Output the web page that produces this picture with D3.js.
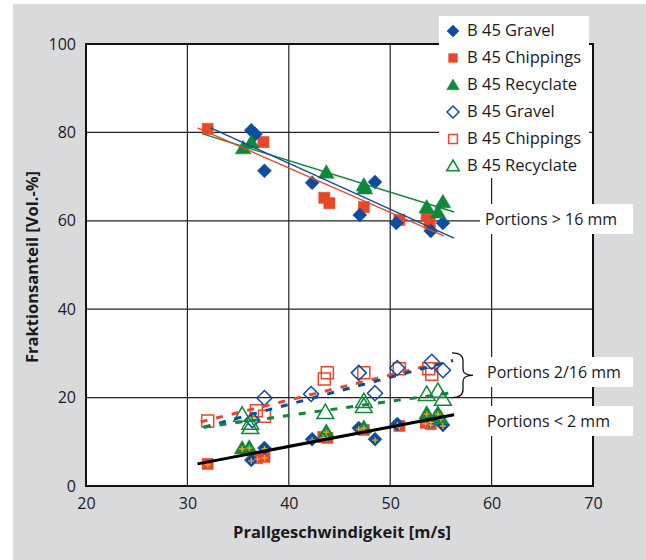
<!DOCTYPE html>
<html><head><meta charset="utf-8">
<script src="https://cdn.jsdelivr.net/npm/d3@7"></script>
<style>body{margin:0;background:#fff}svg{display:block}text{font-family:"Open Sans",sans-serif;fill:#1a1a1a}</style>
</head><body><svg id="c" width="646" height="560"></svg>
<script>
const xTicks=[20,30,40,50,60,70];
const yTicks=[0,20,40,60,80,100];
// > 16 mm (filled markers)
const gravelCoarse=[[36.3,80.5],[36.7,79.6],[37.6,71.3],[42.3,68.6],[48.5,68.8],[47.0,61.3],[50.6,59.5],[54.0,57.7],[55.2,59.5]];
const chippingsCoarse=[[32.0,80.8],[37.5,77.8],[43.5,65.2],[44.0,64.0],[47.4,63.1],[50.9,60.2],[53.6,61.0],[53.9,59.5]];
const recyclateCoarse=[[35.5,76.5],[36.3,77.8],[43.7,71.0],[47.4,68.1],[47.5,67.4],[53.6,63.1],[54.7,62.0],[55.2,64.3]];
// 2/16 mm (open markers)
const gravelMid=[[36.4,14.9],[37.6,19.9],[42.2,20.8],[46.9,25.6],[48.5,21.0],[50.7,26.7],[54.1,28.1],[55.2,26.2]];
const chippingsMid=[[32.0,14.7],[36.8,17.0],[37.6,15.8],[43.5,24.2],[43.8,25.6],[47.4,25.6],[50.9,26.5],[53.8,26.5],[54.1,25.3]];
const recyclateMid=[[35.4,16.1],[36.2,14.3],[36.2,13.3],[43.6,16.7],[47.4,19.2],[47.4,18.1],[53.6,20.8],[54.7,21.5],[55.2,19.7]];
// < 2 mm (filled markers)
const gravelFine=[[36.3,5.9],[37.6,8.6],[42.3,10.6],[46.9,13.1],[48.5,10.6],[50.7,14.0],[54.0,14.6],[55.2,13.8]];
const chippingsFine=[[32.0,5.0],[36.9,6.3],[37.6,6.6],[43.4,11.1],[43.8,10.9],[47.4,12.7],[50.9,13.6],[53.5,14.3],[54.0,14.0]];
const recyclateFine=[[35.4,8.6],[36.1,8.8],[43.7,12.4],[47.4,13.3],[53.6,16.5],[54.7,16.5],[55.0,15.4]];
// trend lines [x0,y0,x1,y1]
const coarseFits={gravel:[32.3,81.0,56.3,56.1],chippings:[31.0,81.0,55.3,56.6],recyclate:[31.6,79.6,56.3,62.0]};
const midFits={chippings:[31.3,14.5,55.8,28.4],gravel:[31.6,13.3,56.2,28.4],recyclate:[31.6,13.3,55.8,21.0]};
const fineFit=[31.0,5.0,56.3,16.1];
const legendLabels=["B 45 Gravel","B 45 Chippings","B 45 Recyclate","B 45 Gravel","B 45 Chippings","B 45 Recyclate"];
const portionLabels=["Portions > 16 mm","Portions 2/16 mm","Portions < 2 mm"];

const C={gravel:"#0b4d9e",chippings:"#e8482a",recyclate:"#10883a"};
const svg=d3.select("#c");
svg.append("rect").attr("x",13).attr("y",4).attr("width",633).attr("height",556).attr("fill","#d9dadc");
const x=d3.scaleLinear().domain([20,70]).range([86,593]);
const y=d3.scaleLinear().domain([0,100]).range([486,44]);
svg.append("rect").attr("x",x(20)).attr("y",y(100)).attr("width",x(70)-x(20)).attr("height",y(0)-y(100)).attr("fill","#fff");
const g=svg.append("g");
// grid
g.selectAll(".vg").data(xTicks.slice(1,-1)).join("line").attr("x1",d=>x(d)).attr("x2",d=>x(d)).attr("y1",y(0)).attr("y2",y(100)).attr("stroke","#222").attr("stroke-width",1.2);
g.selectAll(".hg").data(yTicks.slice(1,-1)).join("line").attr("y1",d=>y(d)).attr("y2",d=>y(d)).attr("x1",x(20)).attr("x2",x(70)).attr("stroke","#222").attr("stroke-width",1.2);
g.append("rect").attr("x",x(20)).attr("y",y(100)).attr("width",x(70)-x(20)).attr("height",y(0)-y(100)).attr("fill","none").attr("stroke","#111").attr("stroke-width",2);

// axes
const xa=svg.append("g").attr("transform",`translate(0,${y(0)})`).call(d3.axisBottom(x).tickValues(xTicks).tickSize(0).tickPadding(12));
xa.select(".domain").remove();
xa.selectAll("text").attr("font-size",16).attr("font-family","Open Sans").attr("fill","#1a1a1a");
const ya=svg.append("g").attr("transform",`translate(${x(20)},0)`).call(d3.axisLeft(y).tickValues(yTicks).tickSize(0).tickPadding(10));
ya.select(".domain").remove();
ya.selectAll("text").attr("font-size",16).attr("font-family","Open Sans").attr("fill","#1a1a1a");
svg.append("text").attr("x",342).attr("y",538).attr("text-anchor","middle").attr("font-size",16.5).attr("font-weight","bold").text("Prallgeschwindigkeit [m/s]");
svg.append("text").attr("transform","translate(38,267) rotate(-90)").attr("text-anchor","middle").attr("font-size",16.5).attr("font-weight","bold").text("Fraktionsanteil [Vol.-%]");

function shape(type,s){
  if(type==="gravel") return `M0,${-s}L${s},0L0,${s}L${-s},0Z`;
  if(type==="chippings") return `M${-s*0.8},${-s*0.8}H${s*0.8}V${s*0.8}H${-s*0.8}Z`;
  return `M0,${-s}L${s*1.05},${s*0.8}H${-s*1.05}Z`;
}
function drawPts(data,type,filled,s){
  g.append("g").selectAll("path").data(data).join("path")
   .attr("transform",d=>`translate(${x(d[0])},${y(d[1])})`)
   .attr("d",shape(type,s))
   .attr("fill",filled?C[type]:"none").attr("stroke",C[type]).attr("stroke-width",filled?0.5:1.5);
}
function plus(data){
  g.append("g").selectAll("path").data(data).join("path")
   .attr("transform",d=>`translate(${x(d[0])},${y(d[1])+1})`)
   .attr("d","M-3,0H3M0,-3V3").attr("stroke","#f5a623").attr("stroke-width",1.3);
}
function fitLine(f,color,w,dash){
  const l=g.append("line").attr("x1",x(f[0])).attr("y1",y(f[1])).attr("x2",x(f[2])).attr("y2",y(f[3])).attr("stroke",color).attr("stroke-width",w);
  if(dash) l.attr("stroke-dasharray",dash);
}
// open mid markers
drawPts(chippingsMid,"chippings",false,7.5);
drawPts(gravelMid,"gravel",false,7.5);
drawPts(recyclateMid,"recyclate",false,8);
fitLine(midFits.chippings,C.chippings,3,"7,9");
fitLine(midFits.gravel,C.gravel,3,"7,9");
fitLine(midFits.recyclate,C.recyclate,3,"7,9");
// coarse
drawPts(chippingsCoarse,"chippings",true,7);
drawPts(gravelCoarse,"gravel",true,7);
drawPts(recyclateCoarse,"recyclate",true,7.5);
fitLine(coarseFits.recyclate,C.recyclate,1.4);
fitLine(coarseFits.chippings,C.chippings,1.4);
fitLine(coarseFits.gravel,C.gravel,1.4);
// fine
drawPts(chippingsFine,"chippings",true,7);
drawPts(gravelFine,"gravel",true,7);
drawPts(recyclateFine,"recyclate",true,7.5);
plus(chippingsFine);plus(gravelFine);plus(recyclateFine);
fitLine(fineFit,"#000",3);

// legend
const lg=svg.append("g");
lg.append("rect").attr("x",439).attr("y",16).attr("width",150).attr("height",162).attr("fill","#fff");
const types=["gravel","chippings","recyclate","gravel","chippings","recyclate"];
legendLabels.forEach((t,i)=>{
  const yy=30+i*27;
  lg.append("path").attr("transform",`translate(453,${yy+1})`).attr("d",shape(types[i],types[i]==="chippings"?5.5:6))
    .attr("fill",i<3?C[types[i]]:"#fff").attr("stroke",C[types[i]]).attr("stroke-width",i<3?0.5:1.5);
  lg.append("text").attr("x",467).attr("y",yy+6).attr("font-size",16.5).text(t);
});
// portion labels
const boxes=[[480,204,153,30],[482,357,151,30],[482,406,151,30]];
boxes.forEach((b,i)=>{
  svg.append("rect").attr("x",b[0]).attr("y",b[1]).attr("width",b[2]).attr("height",b[3]).attr("fill","#fff");
  svg.append("text").attr("x",b[0]+5).attr("y",b[1]+21).attr("font-size",16).text(portionLabels[i]);
});
// brace
const bx=463, bTop=y(30.1), bBot=y(20), bMid=(bTop+bBot)/2;
svg.append("path").attr("d",`M452,${bTop}Q${bx},${bTop} ${bx},${bTop+8}V${bMid-6}Q${bx},${bMid} ${bx+10},${bMid}Q${bx},${bMid} ${bx},${bMid+6}V${bBot-8}Q${bx},${bBot} 452,${bBot}`)
  .attr("fill","none").attr("stroke","#111").attr("stroke-width",1.3);
</script></body></html>
